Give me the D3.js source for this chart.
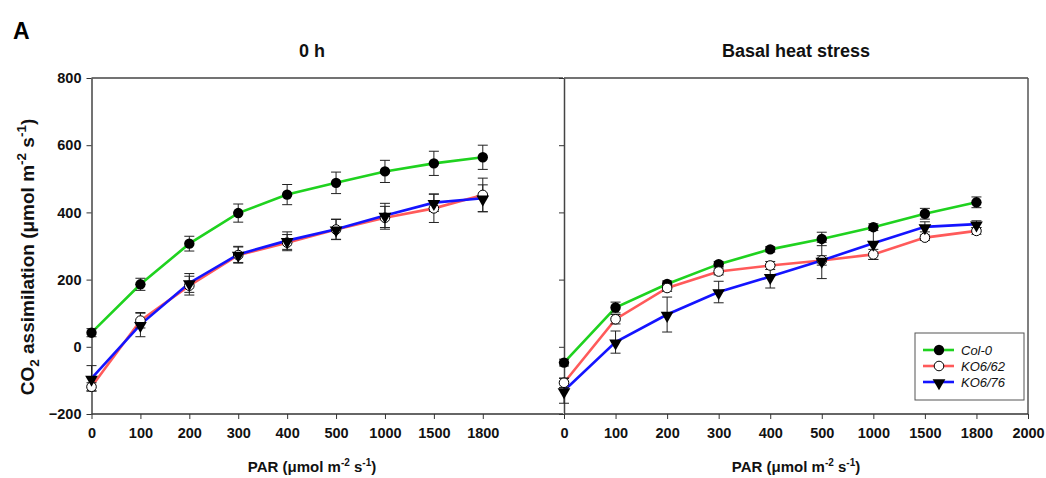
<!DOCTYPE html>
<html>
<head>
<meta charset="utf-8">
<script src="https://cdn.jsdelivr.net/npm/d3@7"></script>
<style>
  body { margin: 0; background: #fff; }
  svg { font-family: "Liberation Sans", Arial, sans-serif; }
  .tick text { font-family: "Liberation Sans", Arial, sans-serif; font-weight: bold; font-size: 14.5px; fill: #111; }
</style>
</head>
<body>
<svg id="chart" width="1046" height="478"></svg>
<script>
// Data
const parLeft = ["0", "100", "200", "300", "400", "500", "1000", "1500", "1800"];
const parRight = ["0", "100", "200", "300", "400", "500", "1000", "1500", "1800", "2000"];
const yTicks = [-200, 0, 200, 400, 600, 800];
const seriesNames = ["Col-0", "KO6/62", "KO6/76"];

// 0 h
const col0_0h = [42, 186, 307, 398, 453, 488, 522, 546, 564];
const col0_0h_se = [12, 18, 22, 27, 30, 32, 33, 36, 36];
const ko62_0h = [-119, 78, 182, 273, 310, 349, 384, 412, 452];
const ko62_0h_se = [12, 22, 28, 24, 24, 30, 34, 42, 50];
const ko76_0h = [-94, 66, 190, 275, 316, 350, 391, 429, 442];
const ko76_0h_se = [38, 36, 28, 24, 26, 30, 36, 26, 40];

// Basal heat stress
const col0_hs = [-47, 117, 187, 246, 290, 321, 356, 396, 430];
const col0_hs_se = [10, 16, 9, 8, 8, 20, 10, 16, 16];
const ko62_hs = [-107, 82, 175, 224, 242, 257, 275, 325, 345];
const ko62_hs_se = [14, 14, 10, 10, 12, 14, 15, 8, 10];
const ko76_hs = [-131, 14, 96, 163, 209, 257, 308, 357, 365];
const ko76_hs_se = [37, 33, 52, 32, 34, 54, 48, 15, 10];

const colors = ["#1fd21f", "#ff5a5a", "#1414ff"];

const svg = d3.select("#chart");

const y = d3.scaleLinear().domain([-200, 800]).range([414, 78]);

function panel(opts) {
  const g = svg.append("g");
  const x = d3.scaleLinear().domain(opts.xDomain).range(opts.xRange);

  // frame
  g.append("line").attr("x1", opts.xRange[0]).attr("x2", opts.xRange[1])
    .attr("y1", 78).attr("y2", 78).attr("stroke", "#444").attr("stroke-width", 1.5);
  if (opts.rightEdge) {
    g.append("line").attr("x1", opts.xRange[1]).attr("x2", opts.xRange[1])
      .attr("y1", 78).attr("y2", 414).attr("stroke", "#555").attr("stroke-width", 1.5);
  }

  const xAxis = d3.axisBottom(x)
    .tickValues(d3.range(opts.ticks.length))
    .tickFormat(i => opts.ticks[i])
    .tickSize(5).tickSizeOuter(0).tickPadding(9);
  const gx = g.append("g").attr("transform", "translate(0,414)").call(xAxis);
  gx.select(".domain").attr("stroke", "#333").attr("stroke-width", 1.5)
    .attr("d", `M${opts.xRange[0]},0H${opts.xRange[1]}`);
  gx.selectAll(".tick line").attr("stroke", "#333");

  const yAxis = d3.axisLeft(y).tickValues(yTicks).tickSize(5).tickSizeOuter(0).tickPadding(5);
  if (!opts.yLabels) yAxis.tickFormat("");
  const gy = g.append("g").attr("transform", `translate(${opts.xRange[0]},0)`).call(yAxis);
  gy.select(".domain").attr("stroke", "#444").attr("stroke-width", 1.5);
  gy.selectAll(".tick line").attr("stroke", "#333");

  const line = d3.line().x((d, i) => x(i)).y(d => y(d));

  opts.series.forEach((s, k) => {
    g.append("path").datum(s.v).attr("d", line)
      .attr("fill", "none").attr("stroke", colors[k]).attr("stroke-width", 2.6);
  });

  opts.series.forEach(s => {
    s.v.forEach((v, i) => {
      const cx = x(i), e = s.se[i];
      const eb = g.append("g").attr("stroke", "#222").attr("stroke-width", 1);
      eb.append("line").attr("x1", cx).attr("x2", cx).attr("y1", y(v - e)).attr("y2", y(v + e));
      eb.append("line").attr("x1", cx - 5).attr("x2", cx + 5).attr("y1", y(v - e)).attr("y2", y(v - e));
      eb.append("line").attr("x1", cx - 5).attr("x2", cx + 5).attr("y1", y(v + e)).attr("y2", y(v + e));
    });
  });

  opts.series.forEach((s, k) => {
    s.v.forEach((v, i) => marker(g, k, x(i), y(v)));
  });

  g.append("text").attr("x", opts.titleX).attr("y", 57).attr("text-anchor", "middle")
    .attr("font-weight", "bold").attr("font-size", 18).attr("fill", "#111").text(opts.title);

  const xl = g.append("text").attr("x", opts.titleX).attr("y", 472).attr("text-anchor", "middle")
    .attr("font-weight", "bold").attr("font-size", 15).attr("fill", "#111");
  xl.append("tspan").text("PAR (μmol m");
  xl.append("tspan").attr("dy", -6).attr("font-size", 10).text("-2");
  xl.append("tspan").attr("dy", 6).text(" s");
  xl.append("tspan").attr("dy", -6).attr("font-size", 10).text("-1");
  xl.append("tspan").attr("dy", 6).text(")");
}

function marker(g, k, cx, cy) {
  if (k === 0) {
    g.append("circle").attr("cx", cx).attr("cy", cy).attr("r", 5.2).attr("fill", "#000");
  } else if (k === 1) {
    g.append("circle").attr("cx", cx).attr("cy", cy).attr("r", 4.8)
      .attr("fill", "#fff").attr("stroke", "#000").attr("stroke-width", 1);
  } else {
    g.append("path").attr("d", d3.symbol(d3.symbolTriangle, 70)())
      .attr("transform", `translate(${cx},${cy + 1}) rotate(180)`).attr("fill", "#000");
  }
}

panel({
  xDomain: [0, 9.64], xRange: [91.5, 563], ticks: parLeft, yLabels: true, rightEdge: false,
  title: "0 h", titleX: 312,
  series: [
    { v: col0_0h, se: col0_0h_se },
    { v: ko62_0h, se: ko62_0h_se },
    { v: ko76_0h, se: ko76_0h_se }
  ]
});

panel({
  xDomain: [0, 9], xRange: [564, 1028], ticks: parRight, yLabels: false, rightEdge: true,
  title: "Basal heat stress", titleX: 796,
  series: [
    { v: col0_hs, se: col0_hs_se },
    { v: ko62_hs, se: ko62_hs_se },
    { v: ko76_hs, se: ko76_hs_se }
  ]
});

// y label
const yl = svg.append("text").attr("transform", "translate(34,257) rotate(-90)")
  .attr("text-anchor", "middle").attr("font-weight", "bold").attr("font-size", 19).attr("fill", "#111");
yl.append("tspan").text("CO");
yl.append("tspan").attr("dy", 5).attr("font-size", 13.5).text("2");
yl.append("tspan").attr("dy", -5).text(" assimilation (μmol m");
yl.append("tspan").attr("dy", -8).attr("font-size", 13.5).text("-2");
yl.append("tspan").attr("dy", 8).text(" s");
yl.append("tspan").attr("dy", -8).attr("font-size", 13.5).text("-1");
yl.append("tspan").attr("dy", 8).text(")");

// panel letter
svg.append("text").attr("x", 13).attr("y", 39).attr("font-weight", "bold")
  .attr("font-size", 23).attr("fill", "#000").text("A");

// legend
const lg = svg.append("g").attr("transform", "translate(915,333)");
lg.append("rect").attr("width", 109).attr("height", 67)
  .attr("fill", "#fff").attr("stroke", "#555").attr("stroke-width", 1);
seriesNames.forEach((name, k) => {
  const ly = 17 + k * 16;
  lg.append("line").attr("x1", 8).attr("x2", 39).attr("y1", ly).attr("y2", ly)
    .attr("stroke", colors[k]).attr("stroke-width", 2.6);
  marker(lg, k, 24, ly);
  lg.append("text").attr("x", 46).attr("y", ly + 5).attr("font-style", "italic")
    .attr("font-size", 13).attr("fill", "#111").text(name);
});
</script>
</body>
</html>
